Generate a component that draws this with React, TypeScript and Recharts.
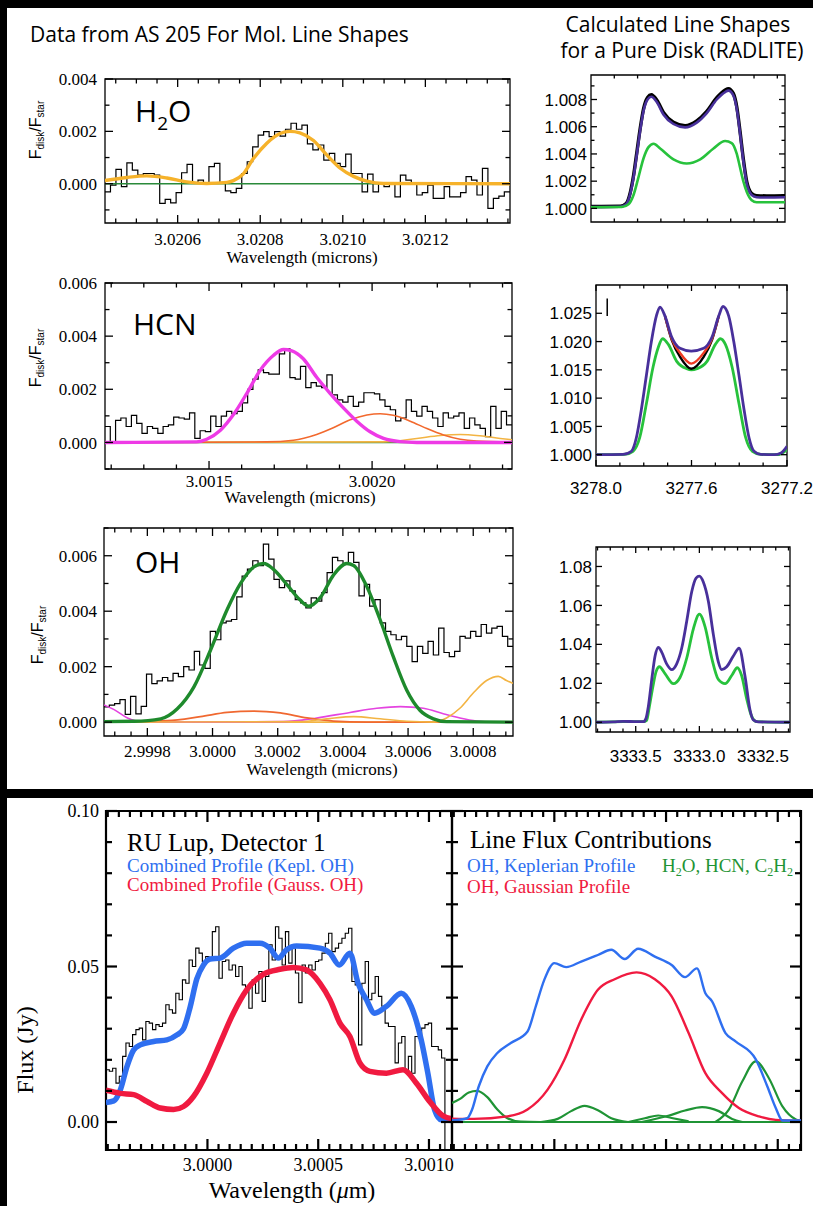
import React from 'react';
import { LineChart, Line, XAxis, YAxis, ReferenceArea, ReferenceLine } from 'recharts';

const SERIF = "'Liberation Serif', 'Times New Roman', serif";
const SANS = "'Open Sans', 'Noto Sans', sans-serif";
const HELV = "'Liberation Sans', Arial, sans-serif";

const BLUE = '#2f6ff0';
const RED = '#f01a40';
const GREEN = '#1f9435';
const PURPLE = '#48309b';
const LGREEN = '#27c23c';

// H2O panel (flux ratio in units of 1e-3)
const h2oBinStart = 3.020424;
const h2oBinWidth = 1.325e-5;
const h2oEnd = 3.021405;
const h2oHist = [-0.31, -0.05, 0.55, -0.11, 0.8, 0.52, 0.33, 0.39, 0.39, 0.33, -0.75, -0.6, -0.73, -0.34, 0.42, 0.74, 0.01, 0.14, 0.01, 0.65, 0.78, 0.04, -0.27, -0.34, -0.18, 0.39, 0.84, 1.41, 1.86, 1.99, 1.8, 1.99, 1.82, 2.08, 2.31, 2.08, 2.24, 1.52, 1.29, 1.48, 0.9, 1.16, 0.78, 0.65, 1.13, 0.39, 0.39, -0.31, 0.37, -0.31, 0.04, -0.11, 0.04, -0.5, 0.33, 0.14, 0.04, -0.43, -0.34, -0.05, -0.56, -0.56, -0.11, -0.5, -0.5, -0.34, 0.27, 0.14, -0.43, 0.59, -0.94, -0.56, -0.47, -0.31];
const h2oFitX = [3.020424, 3.020477, 3.020525, 3.020574, 3.020622, 3.02067, 3.020719, 3.020735, 3.020759, 3.020783, 3.020816, 3.020848, 3.020872, 3.020896, 3.020929, 3.020961, 3.020993, 3.021026, 3.021058, 3.021098, 3.021405];
const h2oFitY = [0.12, 0.24, 0.3, 0.22, 0.07, 0.01, 0.05, 0.12, 0.38, 0.95, 1.55, 1.92, 2.0, 1.94, 1.65, 1.1, 0.6, 0.28, 0.1, 0.01, 0.0];

// HCN panel
const hcnBinStart = 3.001181;
const hcnBinWidth = 1.62e-5;
const hcnEnd = 3.002429;
const hcnHist = [0.6, -0.04, 0.83, 0.92, 0.6, 1.02, 0.72, 0.34, 0.6, 0.53, 0.34, 0.6, 0.66, 0.95, 0.92, 0.88, 1.11, 0.15, 0.44, 0.41, 0.99, 0.6, 0.99, 1.17, 1.08, 1.17, 1.49, 2.0, 2.38, 2.73, 2.63, 2.57, 2.57, 3.33, 3.52, 2.44, 2.38, 2.86, 2.06, 2.25, 2.12, 2.06, 2.54, 1.79, 1.6, 1.52, 1.73, 1.36, 1.52, 1.87, 1.87, 1.83, 1.6, 1.36, 1.23, 0.81, 0.92, 1.6, 1.17, 0.99, 1.36, 1.17, 0.92, 0.6, 1.11, 0.92, 0.99, 1.11, 0.53, 0.92, 0.66, 0.53, 0.22, 1.36, 0.53, 1.17, 0.66];
const hcnMagX = [3.001181, 3.001462, 3.001493, 3.001534, 3.001575, 3.001616, 3.001656, 3.001697, 3.001728, 3.001754, 3.001789, 3.00183, 3.001871, 3.001912, 3.001953, 3.001994, 3.002035, 3.002086, 3.002137, 3.002429];
const hcnMagY = [0, 0.02, 0.12, 0.45, 1.05, 1.85, 2.7, 3.27, 3.5, 3.45, 3.15, 2.45, 1.85, 1.3, 0.8, 0.4, 0.15, 0.03, 0, 0];
const hcnOrX = [3.001181, 3.001677, 3.001759, 3.00183, 3.001881, 3.001933, 3.001984, 3.002025, 3.002065, 3.002117, 3.002168, 3.002219, 3.00227, 3.002321, 3.002429];
const hcnOrY = [0, 0.02, 0.08, 0.3, 0.55, 0.85, 1.03, 1.08, 1.02, 0.8, 0.52, 0.28, 0.12, 0.05, 0.01];
const hcnYeX = [3.001181, 3.002035, 3.002137, 3.002209, 3.00227, 3.002331, 3.002393, 3.002429];
const hcnYeY = [0, 0.02, 0.15, 0.26, 0.3, 0.25, 0.15, 0.1];

// OH panel
const ohBinStart = 2.999667;
const ohBinWidth = 1.63e-5;
const ohEnd = 3.000922;
const ohHist = [0.55, 0.61, 0.67, 0.81, 0.28, 0.93, 0.3, 0.57, 1.73, 1.39, 1.49, 1.61, 1.49, 1.76, 1.64, 2.0, 1.88, 2.55, 2.06, 1.94, 3.27, 2.97, 3.58, 3.64, 3.7, 4.52, 5.27, 5.52, 5.82, 5.64, 6.42, 5.88, 5.15, 4.85, 5.09, 4.73, 4.42, 4.3, 4.12, 4.48, 4.36, 4.67, 5.39, 5.94, 5.82, 5.7, 6.12, 5.76, 4.55, 4.97, 4.18, 4.42, 3.58, 3.27, 3.15, 2.97, 3.09, 2.73, 2.18, 2.73, 2.48, 2.91, 2.42, 3.39, 2.51, 2.36, 2.55, 3.09, 3.03, 3.27, 3.09, 3.52, 3.21, 3.39, 3.45, 3.09, 2.73];
const ohGreenX = [2.999667, 2.999759, 2.999841, 2.999892, 2.999943, 2.999994, 3.000045, 3.000086, 3.000127, 3.000157, 3.000188, 3.000229, 3.000269, 3.000295, 3.000331, 3.000371, 3.000412, 3.000433, 3.000473, 3.000514, 3.000555, 3.000596, 3.000637, 3.000678, 3.000718, 3.000922];
const ohGreenY = [0.02, 0.03, 0.12, 0.48, 1.27, 2.6, 4.06, 5.0, 5.6, 5.72, 5.5, 4.95, 4.4, 4.18, 4.5, 5.3, 5.72, 5.65, 4.9, 3.7, 2.35, 1.15, 0.42, 0.12, 0.02, 0.0];
const ohOrX = [2.999667, 2.999861, 2.999963, 3.000045, 3.000127, 3.000208, 3.00029, 3.000371, 3.000473, 3.000922];
const ohOrY = [0, 0.05, 0.2, 0.35, 0.4, 0.33, 0.15, 0.04, 0, 0];
const ohMagX = [2.999667, 2.999698, 2.999739, 2.99978, 2.999861, 3.000218, 3.00032, 3.000422, 3.000504, 3.000576, 3.000647, 3.000708, 3.000759, 3.00081, 3.000861, 3.000922];
const ohMagY = [0.62, 0.45, 0.15, 0.02, 0, 0.02, 0.15, 0.35, 0.5, 0.56, 0.5, 0.3, 0.15, 0.04, 0, 0];
const ohYeX = [2.999667, 3.000269, 3.000351, 3.000433, 3.000514, 3.000596, 3.000678, 3.000718, 3.000759, 3.0008, 3.000841, 3.000877, 3.000902, 3.000922];
const ohYeY = [0, 0.02, 0.12, 0.2, 0.12, 0.03, 0.0, 0.15, 0.5, 1.05, 1.5, 1.65, 1.5, 1.4];

// RADLITE H2O (excess over continuum, units of 1e-3)
const dPurX = [0, 0.126, 0.151, 0.169, 0.183, 0.197, 0.211, 0.226, 0.243, 0.259, 0.283, 0.311, 0.354, 0.404, 0.454, 0.497, 0.54, 0.576, 0.59, 0.611, 0.626, 0.64, 0.654, 0.669, 0.69, 0.711, 0.754, 0.833];
const dPurY = [0.1, 0.12, 0.3, 1.1, 2.3, 4.0, 5.7, 7.2, 8.0, 8.2, 7.8, 6.9, 6.2, 5.95, 6.3, 7.0, 8.0, 8.55, 8.65, 8.3, 7.3, 5.5, 3.5, 1.8, 0.98, 0.82, 0.8, 0.82];
const dBlackY = [0.14, 0.16, 0.36, 1.2, 2.45, 4.15, 5.85, 7.35, 8.15, 8.35, 7.95, 7.05, 6.33, 6.08, 6.43, 7.13, 8.13, 8.7, 8.8, 8.45, 7.45, 5.65, 3.65, 1.95, 1.1, 0.94, 0.92, 0.94];
const dGreenX = [0, 0.133, 0.161, 0.183, 0.204, 0.226, 0.247, 0.269, 0.297, 0.354, 0.411, 0.469, 0.526, 0.576, 0.604, 0.626, 0.64, 0.654, 0.669, 0.69, 0.711, 0.754, 0.833];
const dGreenY = [0.08, 0.1, 0.3, 1.0, 2.3, 3.7, 4.5, 4.75, 4.4, 3.6, 3.3, 3.6, 4.4, 4.95, 4.8, 4.0, 3.0, 2.0, 1.2, 0.6, 0.45, 0.45, 0.45];

// RADLITE HCN
const ePurX = [3278.0, 3277.887, 3277.852, 3277.831, 3277.81, 3277.789, 3277.768, 3277.746, 3277.732, 3277.711, 3277.683, 3277.648, 3277.601, 3277.549, 3277.514, 3277.486, 3277.468, 3277.444, 3277.423, 3277.401, 3277.38, 3277.359, 3277.338, 3277.31, 3277.254, 3277.225, 3277.2];
const ePurY = [0, 0.05, 0.6, 3.0, 8, 14, 20, 24.7, 26.1, 24.5, 20.8, 18.8, 18.3, 18.8, 20.8, 24.5, 26.2, 24.5, 20, 14, 8, 3, 0.6, 0.05, 0, 0.3, 1.5];
const eGreenX = [3278.0, 3277.88, 3277.845, 3277.817, 3277.789, 3277.761, 3277.739, 3277.721, 3277.697, 3277.662, 3277.62, 3277.601, 3277.577, 3277.535, 3277.5, 3277.479, 3277.458, 3277.43, 3277.401, 3277.373, 3277.345, 3277.31, 3277.239, 3277.2];
const eGreenY = [0, 0.05, 0.6, 3, 9, 15.5, 19, 20.5, 19.5, 16.5, 15.2, 15.0, 15.2, 16.5, 19.5, 20.5, 19.5, 15.5, 9, 3, 0.6, 0.05, 0, 0.9];
const eDipX = [3277.711, 3277.683, 3277.648, 3277.601, 3277.549, 3277.514, 3277.486];
const eBlackY = [24.5, 20.3, 17.3, 15.2, 17.3, 20.3, 24.5];
const eRedY = [24.5, 20.5, 18.0, 16.1, 18.0, 20.5, 24.5];

// RADLITE OH
const fPurX = [3333.812, 3333.675, 3333.597, 3333.492, 3333.44, 3333.419, 3333.401, 3333.374, 3333.348, 3333.322, 3333.296, 3333.257, 3333.217, 3333.178, 3333.139, 3333.099, 3333.06, 3333.026, 3333.0, 3332.969, 3332.929, 3332.89, 3332.851, 3332.825, 3332.785, 3332.733, 3332.688, 3332.641, 3332.602, 3332.576, 3332.537, 3332.288];
const fPurY = [0, 0.2, 0.5, 0.3, 0.3, 2, 8, 22, 34, 38.5, 36, 30, 27, 30, 38, 52, 67, 74, 75, 72, 62, 45, 31, 27, 28.5, 34, 38, 23.5, 6.3, 1.2, 0.2, 0];
const fGreenX = [3333.812, 3333.597, 3333.44, 3333.414, 3333.393, 3333.366, 3333.34, 3333.314, 3333.27, 3333.204, 3333.152, 3333.099, 3333.047, 3333.0, 3332.955, 3332.903, 3332.851, 3332.798, 3332.746, 3332.702, 3332.668, 3332.628, 3332.589, 3332.55, 3332.288];
const fGreenY = [0, 0.3, 0.3, 1, 8, 18, 26, 28.5, 25, 19.8, 23, 33, 48, 55.5, 49, 33, 22, 19.8, 24, 28, 24, 12, 3, 0.3, 0];

// RU Lup, detector 1 (Jy)
const ruBinStart = 2.999542;
const ruBinWidth = 1.5e-5;
const ruEnd = 3.001104;
const ruHist = [0.0168, 0.0163, 0.0173, 0.0125, 0.0147, 0.0211, 0.0254, 0.0243, 0.0281, 0.0297, 0.0302, 0.0264, 0.0323, 0.0318, 0.0297, 0.0313, 0.0307, 0.0318, 0.0377, 0.0361, 0.035, 0.0414, 0.0393, 0.0457, 0.0446, 0.0521, 0.05, 0.0559, 0.0543, 0.0516, 0.0532, 0.0527, 0.0612, 0.0628, 0.0462, 0.0516, 0.0521, 0.0489, 0.0505, 0.0468, 0.05, 0.0441, 0.0425, 0.0366, 0.0457, 0.0414, 0.0484, 0.0388, 0.0468, 0.057, 0.0521, 0.0628, 0.0591, 0.0505, 0.0612, 0.0511, 0.0559, 0.0479, 0.0384, 0.0505, 0.0479, 0.0505, 0.0489, 0.0516, 0.0521, 0.0543, 0.0575, 0.0607, 0.0548, 0.0559, 0.0575, 0.0591, 0.0607, 0.0623, 0.0452, 0.0441, 0.0248, 0.0446, 0.0516, 0.0393, 0.0414, 0.0468, 0.0404, 0.0372, 0.0318, 0.0307, 0.0307, 0.019, 0.0254, 0.0275, 0.0168, 0.0211, 0.0157, 0.0275, 0.027, 0.0302, 0.0313, 0.0318, 0.0243, 0.0243, 0.0232, 0.0206, -0.012];
const keplX = [2.999542, 2.999577, 2.999607, 2.999637, 2.999667, 2.999697, 2.999757, 2.999817, 2.999862, 2.999892, 2.999922, 2.999952, 2.999982, 3.000012, 3.000057, 3.000117, 3.000177, 3.000237, 3.000282, 3.00032, 3.000357, 3.000402, 3.000508, 3.000553, 3.000595, 3.000643, 3.00068, 3.000718, 3.000755, 3.000808, 3.000875, 3.00092, 3.000965, 3.000995, 3.001025, 3.001056, 3.001104];
const keplY = [0.0063, 0.0068, 0.0104, 0.0179, 0.0232, 0.0248, 0.0259, 0.0264, 0.028, 0.03, 0.037, 0.046, 0.0505, 0.0524, 0.0527, 0.0559, 0.0575, 0.0575, 0.0559, 0.0527, 0.0554, 0.0566, 0.0559, 0.0543, 0.0505, 0.0543, 0.0446, 0.0393, 0.035, 0.0372, 0.0414, 0.0372, 0.0264, 0.0157, 0.004, 0.0007, 0.0005];
const gaussX = [2.999542, 2.999607, 2.999667, 2.999727, 2.999787, 2.999847, 2.999892, 2.999937, 2.999997, 3.000057, 3.000117, 3.000177, 3.000252, 3.000327, 3.000387, 3.000447, 3.000508, 3.000553, 3.000598, 3.000643, 3.000688, 3.000733, 3.000808, 3.000883, 3.000943, 3.001003, 3.001063, 3.001104];
const gaussY = [0.0102, 0.0092, 0.0088, 0.0066, 0.0045, 0.004, 0.005, 0.0082, 0.0157, 0.0254, 0.035, 0.0425, 0.0475, 0.0491, 0.0497, 0.0489, 0.0446, 0.0393, 0.0318, 0.0275, 0.019, 0.0163, 0.0157, 0.0168, 0.0125, 0.0066, 0.002, 0.001];

// Line flux contributions
const ohKeplX = [2.999542, 2.99961, 2.999632, 2.999662, 2.9997, 2.999745, 2.999805, 2.99988, 2.999917, 2.999955, 3.0, 3.000053, 3.00012, 3.000195, 3.000255, 3.000315, 3.000375, 3.00045, 3.000525, 3.000585, 3.000638, 3.000676, 3.000706, 3.000766, 3.000811, 3.000901, 3.000953, 3.000991, 3.001021, 3.001104];
const ohKeplY = [0.0005, 0.0012, 0.004, 0.0115, 0.0179, 0.0222, 0.0254, 0.0291, 0.0372, 0.0457, 0.0511, 0.0498, 0.0516, 0.0537, 0.0554, 0.0524, 0.0557, 0.0532, 0.0505, 0.0466, 0.0494, 0.0414, 0.0388, 0.0286, 0.0259, 0.0202, 0.0115, 0.0045, 0.0005, 0.0005];
const ohGaussX = [2.999542, 2.99964, 2.99979, 2.99988, 2.99997, 3.000045, 3.00012, 3.000195, 3.00027, 3.000368, 3.00045, 3.000525, 3.000601, 3.000676, 3.000751, 3.000826, 3.000916, 3.000991, 3.001104];
const ohGaussY = [0.0011, 0.001, 0.0018, 0.004, 0.0104, 0.02, 0.0329, 0.0425, 0.0459, 0.0481, 0.0459, 0.0404, 0.0286, 0.0157, 0.0093, 0.0045, 0.0018, 0.0007, 0.0004];
const mol1X = [2.999542, 2.99958, 2.999617, 2.999655, 2.9997, 2.999745, 2.99979, 2.99985, 2.99994];
const mol1Y = [0.0061, 0.0075, 0.0095, 0.01, 0.008, 0.004, 0.0012, 0.0001, 0];
const mol2X = [2.99994, 3.000015, 3.000075, 3.000135, 3.000195, 3.000255, 3.00033];
const mol2Y = [0, 0.001, 0.0035, 0.0052, 0.0038, 0.0012, 0];
const mol3X = [3.00033, 3.000405, 3.000465, 3.000525, 3.000601];
const mol3Y = [0, 0.0012, 0.0021, 0.0013, 0.0002];
const mol4X = [3.00039, 3.00051, 3.000585, 3.000661, 3.000736, 3.000796, 3.000841];
const mol4Y = [0, 0.002, 0.0037, 0.0048, 0.0035, 0.001, 0];
const mol5X = [3.000721, 3.000781, 3.000841, 3.000901, 3.000961, 3.001021, 3.001081, 3.001104];
const mol5Y = [0, 0.004, 0.013, 0.0195, 0.014, 0.005, 0.0008, 0.0003];

type Pt = { x: number; y: number };
type Series = { pts: Pt[]; color: string; width: number; step?: boolean };

const pts = (xs: number[], ys: number[], scale = 1, base = 0): Pt[] =>
  xs.map((x, i) => ({ x, y: base + ys[i] * scale }));

const hist = (x0: number, dx: number, ys: number[], xEnd: number, scale = 1): Pt[] => [
  ...ys.map((v, i) => ({ x: x0 + i * dx, y: v * scale })),
  { x: xEnd, y: ys[ys.length - 1] * scale },
];

const flat = (a: number, b: number, y = 0): Pt[] => [{ x: a, y }, { x: b, y }];

const steps = (a: number, b: number, s: number) => {
  const out: number[] = [];
  const n = Math.round((b - a) / s);
  for (let i = 0; i <= n; i++) out.push(+(a + i * s).toFixed(9));
  return out;
};

type PanelProps = {
  left: number; top: number; w: number; h: number; ml: number; mb: number; mr?: number;
  xDomain: [number, number]; yDomain: [number, number]; reversed?: boolean;
  xTicks: number[]; xMajor: number[]; xFmt?: (v: number) => string; xDy?: number;
  yTicks: number[]; yMajor: number[]; yFmt?: (v: number) => string; yDx?: number;
  font: string; fontSize: number; major: number; minor: number; lw: number;
  series: Series[]; children?: React.ReactNode;
};

const MT = 14;

function Panel(p: PanelProps) {
  const MR = p.mr ?? 8;
  const W = p.ml + p.w + MR;
  const H = MT + p.h + p.mb;
  const near = (v: number, arr: number[]) => arr.some((m) => Math.abs(m - v) < 1e-7 * Math.max(1, Math.abs(m)));
  const right = p.ml + p.w;

  const xTick = (t: any) => {
    const maj = near(t.payload.value, p.xMajor);
    const len = maj ? p.major : p.minor;
    return (
      <g>
        <line x1={t.x} x2={t.x} y1={t.y} y2={t.y - len} stroke="#000" strokeWidth={p.lw} />
        <line x1={t.x} x2={t.x} y1={MT} y2={MT + len} stroke="#000" strokeWidth={p.lw} />
        {maj && p.xFmt ? (
          <text x={t.x} y={t.y + (p.xDy ?? 20)} textAnchor="middle" fontFamily={p.font} fontSize={p.fontSize} fill="#000">
            {p.xFmt(t.payload.value)}
          </text>
        ) : null}
      </g>
    );
  };

  const yTick = (t: any) => {
    const maj = near(t.payload.value, p.yMajor);
    const len = maj ? p.major : p.minor;
    return (
      <g>
        <line x1={t.x} x2={t.x + len} y1={t.y} y2={t.y} stroke="#000" strokeWidth={p.lw} />
        <line x1={right} x2={right - len} y1={t.y} y2={t.y} stroke="#000" strokeWidth={p.lw} />
        {maj && p.yFmt ? (
          <text x={t.x - (p.yDx ?? 6)} y={t.y} dy="0.36em" textAnchor="end" fontFamily={p.font} fontSize={p.fontSize} fill="#000">
            {p.yFmt(t.payload.value)}
          </text>
        ) : null}
      </g>
    );
  };

  return (
    <div style={{ position: 'absolute', left: p.left - p.ml, top: p.top - MT, width: W, height: H }}>
      <LineChart width={W} height={H} margin={{ top: MT, right: MR, left: 0, bottom: 0 }}>
        <XAxis dataKey="x" type="number" domain={p.xDomain} reversed={p.reversed} allowDataOverflow ticks={p.xTicks}
          interval={0} tick={xTick} tickLine={false} axisLine={false} tickSize={0} tickMargin={0} height={p.mb} />
        <YAxis type="number" domain={p.yDomain} allowDataOverflow ticks={p.yTicks} interval={0} tick={yTick}
          tickLine={false} axisLine={false} tickSize={0} tickMargin={0} width={p.ml} />
        {p.series.map((s, i) => (
          <Line key={i} data={s.pts} dataKey="y" type={s.step ? 'stepAfter' : 'monotone'} stroke={s.color}
            strokeWidth={s.width} dot={false} activeDot={false} isAnimationActive={false} />
        ))}
        <ReferenceArea x1={p.xDomain[0]} x2={p.xDomain[1]} y1={p.yDomain[0]} y2={p.yDomain[1]} fill="none"
          fillOpacity={0} stroke="#000" strokeWidth={p.lw} ifOverflow="visible" />
        {p.children}
      </LineChart>
    </div>
  );
}

const fmt = (d: number) => (v: number) => v.toFixed(d);
const k = 1e-3;

const FLabel = ({ x, y }: { x: number; y: number }) => (
  <text transform={`translate(${x},${y}) rotate(-90)`} textAnchor="middle" fontFamily={HELV} fontSize={16} fill="#000">
    F<tspan fontSize={10} dy={3}>disk</tspan>
    <tspan dy={-3}>/F</tspan>
    <tspan fontSize={10} dy={3}>star</tspan>
  </text>
);

const topLeft = { ml: 62, mb: 34, font: SERIF, fontSize: 17, major: 8, minor: 4.5, lw: 1.3, yDx: 8 };
const radlite = { ml: 52, mb: 36, mr: 30, font: HELV, fontSize: 17, major: 6, minor: 3.5, lw: 1.3, yDx: 4 };
const bottom = { mb: 32, font: SERIF, fontSize: 18, major: 11, minor: 6, lw: 2.2, yDx: 7 };

export default function App() {
  return (
    <div style={{ position: 'absolute', left: 0, top: 0, width: 813, height: 1206, background: '#000', overflow: 'hidden' }}>
      <div style={{ position: 'absolute', left: 7, top: 8, width: 806, height: 781, background: '#fff' }} />
      <div style={{ position: 'absolute', left: 7, top: 798, width: 806, height: 408, background: '#fff' }} />

      <Panel {...topLeft} left={105} top={79} w={405} h={144}
        xDomain={[3.020424, 3.021405]} yDomain={[-0.0015, 0.004]}
        xTicks={steps(3.02045, 3.0214, 0.00005)} xMajor={[3.0206, 3.0208, 3.021, 3.0212]} xFmt={fmt(4)} xDy={22}
        yTicks={steps(-0.001, 0.004, 0.001)} yMajor={[0, 0.002, 0.004]} yFmt={fmt(3)}
        series={[
          { pts: hist(h2oBinStart, h2oBinWidth, h2oHist, h2oEnd, k), color: '#000', width: 1.2, step: true },
          { pts: flat(3.020424, 3.021405), color: '#2a8a3a', width: 1.6 },
          { pts: pts(h2oFitX, h2oFitY, k), color: '#f6b22a', width: 3.4 },
        ]} />

      <Panel {...topLeft} left={105} top={283} w={407} h={186}
        xDomain={[3.001181, 3.002429]} yDomain={[-0.001, 0.006]}
        xTicks={steps(3.0012, 3.0024, 0.0001)} xMajor={[3.0015, 3.002]} xFmt={fmt(4)} xDy={18}
        yTicks={steps(-0.001, 0.006, 0.001)} yMajor={[0, 0.002, 0.004, 0.006]} yFmt={fmt(3)}
        series={[
          { pts: hist(hcnBinStart, hcnBinWidth, hcnHist, hcnEnd, k), color: '#000', width: 1.2, step: true },
          { pts: flat(3.001181, 3.002429), color: '#2a8a3a', width: 1.6 },
          { pts: pts(hcnYeX, hcnYeY, k), color: '#f3b443', width: 1.6 },
          { pts: pts(hcnOrX, hcnOrY, k), color: '#f2692e', width: 1.6 },
          { pts: pts(hcnMagX, hcnMagY, k), color: '#ee3ae6', width: 3.4 },
        ]} />

      <Panel {...topLeft} left={104} top={528} w={409} h={208} yDx={7}
        xDomain={[2.999667, 3.000922]} yDomain={[-0.0005, 0.007]}
        xTicks={steps(2.9997, 3.0009, 0.00005)} xMajor={[2.9998, 3.0, 3.0002, 3.0004, 3.0006, 3.0008]} xFmt={fmt(4)} xDy={21}
        yTicks={steps(0, 0.007, 0.001)} yMajor={[0, 0.002, 0.004, 0.006]} yFmt={fmt(3)}
        series={[
          { pts: hist(ohBinStart, ohBinWidth, ohHist, ohEnd, k), color: '#000', width: 1.2, step: true },
          { pts: flat(2.999667, 3.000922), color: '#f3b443', width: 1.6 },
          { pts: pts(ohMagX, ohMagY, k), color: '#e444e0', width: 1.6 },
          { pts: pts(ohOrX, ohOrY, k), color: '#f06830', width: 1.8 },
          { pts: pts(ohYeX, ohYeY, k), color: '#f3b443', width: 1.6 },
          { pts: pts(ohGreenX, ohGreenY, k), color: '#1e8a2c', width: 3.4 },
        ]} />

      <Panel {...radlite} left={591} top={75} w={194} h={147}
        xDomain={[0, 0.833]} yDomain={[0.999, 1.0098]}
        xTicks={steps(0.1, 0.8, 0.1)} xMajor={[]}
        yTicks={steps(1.0, 1.009, 0.001)} yMajor={[1.0, 1.002, 1.004, 1.006, 1.008]} yFmt={fmt(3)}
        series={[
          { pts: pts(dPurX, dBlackY, k, 1), color: '#000', width: 3.4 },
          { pts: pts(dPurX, dPurY, k, 1), color: PURPLE, width: 2.6 },
          { pts: pts(dGreenX, dGreenY, k, 1), color: LGREEN, width: 2.6 },
        ]} />

      <Panel {...radlite} left={596} top={285} w={191} h={181} reversed xDy={28}
        xDomain={[3277.2, 3278.0]} yDomain={[0.998, 1.03]}
        xTicks={steps(3277.2, 3278.0, 0.1)} xMajor={[3277.2, 3277.6, 3278.0]} xFmt={fmt(1)}
        yTicks={steps(1.0, 1.025, 0.005)} yMajor={steps(1.0, 1.025, 0.005)} yFmt={fmt(3)}
        series={[
          { pts: pts(eGreenX, eGreenY, k, 1), color: LGREEN, width: 2.8 },
          { pts: pts(eDipX, eBlackY, k, 1), color: '#000', width: 2.4 },
          { pts: pts(eDipX, eRedY, k, 1), color: '#ee3a22', width: 2.4 },
          { pts: pts(ePurX, ePurY, k, 1), color: PURPLE, width: 2.8 },
        ]}>
        <ReferenceLine segment={[{ x: 3277.953, y: 1.0245 }, { x: 3277.953, y: 1.0276 }]} stroke="#000" strokeWidth={1.5} />
      </Panel>

      <Panel {...radlite} left={596} top={547} w={194} h={185} reversed xDy={30} mr={20}
        xDomain={[3332.288, 3333.812]} yDomain={[0.995, 1.09]}
        xTicks={steps(3332.3, 3333.8, 0.1)} xMajor={[3332.5, 3333.0, 3333.5]} xFmt={fmt(1)}
        yTicks={steps(1.0, 1.08, 0.01)} yMajor={[1.0, 1.02, 1.04, 1.06, 1.08]} yFmt={fmt(2)}
        series={[
          { pts: pts(fGreenX, fGreenY, k, 1), color: LGREEN, width: 2.8 },
          { pts: pts(fPurX, fPurY, k, 1), color: PURPLE, width: 2.8 },
        ]} />

      <Panel {...bottom} ml={56} left={106} top={811} w={346} h={339} xDy={21}
        xDomain={[2.999542, 3.001104]} yDomain={[-0.009, 0.1]}
        xTicks={steps(2.99955, 3.0011, 0.00005)} xMajor={[3.0, 3.0005, 3.001]} xFmt={fmt(4)}
        yTicks={steps(0, 0.1, 0.01)} yMajor={[0, 0.05, 0.1]} yFmt={fmt(2)}
        series={[
          { pts: hist(ruBinStart, ruBinWidth, ruHist, ruEnd), color: '#000', width: 1.1, step: true },
          { pts: pts(keplX, keplY), color: BLUE, width: 5.5 },
          { pts: pts(gaussX, gaussY), color: RED, width: 5.5 },
        ]} />

      <Panel {...bottom} ml={20} left={452} top={811} w={349} h={339}
        xDomain={[2.999542, 3.001104]} yDomain={[-0.009, 0.1]}
        xTicks={steps(2.99955, 3.0011, 0.00005)} xMajor={[3.0, 3.0005, 3.001]}
        yTicks={steps(0, 0.1, 0.01)} yMajor={[0, 0.05, 0.1]}
        series={[
          { pts: flat(2.999542, 3.001104), color: GREEN, width: 2.2 },
          { pts: pts(mol1X, mol1Y), color: GREEN, width: 2.2 },
          { pts: pts(mol2X, mol2Y), color: GREEN, width: 2.2 },
          { pts: pts(mol3X, mol3Y), color: GREEN, width: 2.2 },
          { pts: pts(mol4X, mol4Y), color: GREEN, width: 2.2 },
          { pts: pts(mol5X, mol5Y), color: GREEN, width: 2.2 },
          { pts: pts(ohGaussX, ohGaussY), color: RED, width: 2.4 },
          { pts: pts(ohKeplX, ohKeplY), color: BLUE, width: 2.4 },
        ]} />

      <svg width={813} height={1206} style={{ position: 'absolute', left: 0, top: 0, pointerEvents: 'none' }}>
        <text x={30} y={42} fontFamily={SANS} fontSize={21} fill="#000">Data from AS 205 For Mol. Line Shapes</text>
        <text x={678} y={32} textAnchor="middle" fontFamily={SANS} fontSize={21} fill="#000">Calculated Line Shapes</text>
        <text x={682} y={58} textAnchor="middle" fontFamily={SANS} fontSize={21} fill="#000">for a Pure Disk (RADLITE)</text>

        <text x={135} y={122} fontFamily={SANS} fontSize={30} fill="#000">
          H<tspan fontSize={19} dy={8}>2</tspan><tspan dy={-8}>O</tspan>
        </text>
        <text x={133} y={335} fontFamily={SANS} fontSize={30} fill="#000">HCN</text>
        <text x={135} y={573} fontFamily={SANS} fontSize={30} fill="#000">OH</text>

        <FLabel x={41} y={130} />
        <FLabel x={41} y={358} />
        <FLabel x={43} y={635} />

        <text x={302} y={263} textAnchor="middle" fontFamily={SERIF} fontSize={17} fill="#000">Wavelength (microns)</text>
        <text x={300} y={503} textAnchor="middle" fontFamily={SERIF} fontSize={17} fill="#000">Wavelength (microns)</text>
        <text x={322} y={775} textAnchor="middle" fontFamily={SERIF} fontSize={17} fill="#000">Wavelength (microns)</text>

        <text x={127} y={851} fontFamily={SERIF} fontSize={25} fill="#000">RU Lup, Detector 1</text>
        <text x={127} y={872} fontFamily={SERIF} fontSize={19} fill={BLUE}>Combined Profile (Kepl. OH)</text>
        <text x={127} y={891} fontFamily={SERIF} fontSize={19} fill={RED}>Combined Profile (Gauss. OH)</text>

        <text x={470} y={848} fontFamily={SERIF} fontSize={25} fill="#000">Line Flux Contributions</text>
        <text x={467} y={872} fontFamily={SERIF} fontSize={19} fill={BLUE}>OH, Keplerian Profile</text>
        <text x={467} y={893} fontFamily={SERIF} fontSize={19} fill={RED}>OH, Gaussian Profile</text>
        <text x={662} y={872} fontFamily={SERIF} fontSize={19} fill={GREEN}>
          H<tspan fontSize={12} dy={4}>2</tspan><tspan dy={-4}>O, HCN, C</tspan><tspan fontSize={12} dy={4}>2</tspan>
          <tspan dy={-4}>H</tspan><tspan fontSize={12} dy={4}>2</tspan>
        </text>

        <text transform="translate(33,1050) rotate(-90)" textAnchor="middle" fontFamily={SERIF} fontSize={24} fill="#000">Flux (Jy)</text>
        <text x={292} y={1198} textAnchor="middle" fontFamily={SERIF} fontSize={24} fill="#000">
          Wavelength (<tspan fontStyle="italic">μ</tspan>m)
        </text>
      </svg>
    </div>
  );
}
